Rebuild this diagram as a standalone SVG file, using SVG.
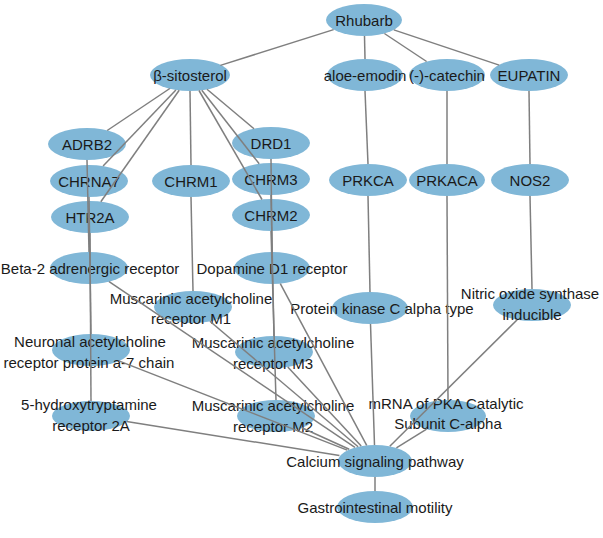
<svg xmlns="http://www.w3.org/2000/svg" width="603" height="538" viewBox="0 0 603 538">
<style>
.n ellipse{fill:#80b7d7;}
.n text{font-family:"Liberation Sans",Arial,sans-serif;font-size:15px;fill:#1a1a1a;text-anchor:middle;dominant-baseline:central;}
#edges line{stroke:#7f7f7f;stroke-width:1.5;}
</style>
<rect width="603" height="538" fill="#ffffff"/>
<g id="nodes">
<g id="rhubarb" class="n"><ellipse cx="364" cy="20" rx="38" ry="16"/><text x="364" y="20">Rhubarb</text></g>
<g id="sitosterol" class="n"><ellipse cx="190" cy="75" rx="40" ry="16"/><text x="190" y="75">β-sitosterol</text></g>
<g id="aloe" class="n"><ellipse cx="365" cy="75" rx="38" ry="16"/><text x="365" y="75">aloe-emodin</text></g>
<g id="catechin" class="n"><ellipse cx="447" cy="75" rx="38" ry="16"/><text x="447" y="75">(-)-catechin</text></g>
<g id="eupatin" class="n"><ellipse cx="529" cy="75" rx="39" ry="16"/><text x="529" y="75">EUPATIN</text></g>
<g id="adrb2" class="n"><ellipse cx="87" cy="144" rx="39" ry="16"/><text x="87" y="144">ADRB2</text></g>
<g id="drd1" class="n"><ellipse cx="271" cy="143" rx="39" ry="16"/><text x="271" y="143">DRD1</text></g>
<g id="chrna7" class="n"><ellipse cx="89" cy="181" rx="39" ry="16"/><text x="89" y="181">CHRNA7</text></g>
<g id="chrm1" class="n"><ellipse cx="191" cy="181" rx="39" ry="16"/><text x="191" y="181">CHRM1</text></g>
<g id="chrm3" class="n"><ellipse cx="271" cy="179" rx="39" ry="16"/><text x="271" y="179">CHRM3</text></g>
<g id="prkca" class="n"><ellipse cx="368" cy="180" rx="39" ry="16"/><text x="368" y="180">PRKCA</text></g>
<g id="prkaca" class="n"><ellipse cx="447" cy="180" rx="38" ry="16"/><text x="447" y="180">PRKACA</text></g>
<g id="nos2" class="n"><ellipse cx="530" cy="180" rx="39" ry="16"/><text x="530" y="180">NOS2</text></g>
<g id="htr2a" class="n"><ellipse cx="90" cy="217" rx="39" ry="16"/><text x="90" y="217">HTR2A</text></g>
<g id="chrm2" class="n"><ellipse cx="271" cy="215" rx="39" ry="16"/><text x="271" y="215">CHRM2</text></g>
<g id="beta2" class="n"><ellipse cx="89" cy="268" rx="39" ry="16"/><text x="90" y="268">Beta-2 adrenergic receptor</text></g>
<g id="dopamine" class="n"><ellipse cx="272" cy="268" rx="38" ry="16"/><text x="272" y="268">Dopamine D1 receptor</text></g>
<g id="m1" class="n"><ellipse cx="193" cy="307" rx="39" ry="16"/><text x="191" y="298">Muscarinic acetylcholine</text><text x="191" y="318">receptor M1</text></g>
<g id="pkc" class="n"><ellipse cx="370" cy="308" rx="38" ry="16"/><text x="382" y="308">Protein kinase C alpha type</text></g>
<g id="nosi" class="n"><ellipse cx="532" cy="305" rx="39" ry="16"/><text x="530" y="293">Nitric oxide synthase</text><text x="532" y="314">inducible</text></g>
<g id="neuronal" class="n"><ellipse cx="91" cy="350" rx="39" ry="16"/><text x="90" y="341">Neuronal acetylcholine</text><text x="89" y="362">receptor protein a-7 chain</text></g>
<g id="m3" class="n"><ellipse cx="274" cy="352" rx="39" ry="16"/><text x="273" y="342">Muscarinic acetylcholine</text><text x="273" y="363">receptor M3</text></g>
<g id="ht2a" class="n"><ellipse cx="91" cy="416" rx="39" ry="15"/><text x="89" y="404">5-hydroxytryptamine</text><text x="91" y="425">receptor 2A</text></g>
<g id="m2" class="n"><ellipse cx="276" cy="416" rx="39" ry="16"/><text x="273" y="405">Muscarinic acetylcholine</text><text x="273" y="426">receptor M2</text></g>
<g id="mrna" class="n"><ellipse cx="448" cy="416" rx="38" ry="16"/><text x="446" y="403">mRNA of PKA Catalytic</text><text x="448" y="423">Subunit C-alpha</text></g>
<g id="calcium" class="n"><ellipse cx="375" cy="461" rx="37" ry="16"/><text x="375" y="461">Calcium signaling pathway</text></g>
<g id="gi" class="n"><ellipse cx="375" cy="507" rx="38" ry="16"/><text x="375" y="507">Gastrointestinal motility</text></g>
</g>
<g id="edges">
<line x1="333.6" y1="29.6" x2="220.4" y2="65.4"/>
<line x1="364.5" y1="36" x2="365" y2="59"/>
<line x1="384.4" y1="33.5" x2="426.6" y2="61.5"/>
<line x1="393.8" y1="29.9" x2="499.2" y2="65.1"/>
<line x1="169.8" y1="88.5" x2="107.2" y2="130.5"/>
<line x1="175.9" y1="89.9" x2="103.1" y2="166.1"/>
<line x1="179.2" y1="90.3" x2="100.8" y2="201.7"/>
<line x1="190" y1="91" x2="191" y2="165"/>
<line x1="207" y1="89.3" x2="254" y2="128.7"/>
<line x1="201.8" y1="90.2" x2="259.2" y2="163.8"/>
<line x1="199" y1="90.5" x2="262" y2="199.5"/>
<line x1="365" y1="91" x2="368" y2="164"/>
<line x1="447" y1="91" x2="447" y2="164"/>
<line x1="529" y1="91" x2="530" y2="164"/>
<line x1="87" y1="160" x2="89" y2="252"/>
<line x1="89" y1="197" x2="91" y2="334"/>
<line x1="90" y1="233" x2="91" y2="401"/>
<line x1="191" y1="197" x2="193" y2="291"/>
<line x1="271" y1="159" x2="272" y2="252"/>
<line x1="271" y1="195" x2="274" y2="336"/>
<line x1="271" y1="231" x2="276" y2="400"/>
<line x1="368" y1="196" x2="370" y2="292"/>
<line x1="447" y1="196" x2="448" y2="400"/>
<line x1="530" y1="196" x2="532" y2="289"/>
<line x1="109.1" y1="281.6" x2="354.9" y2="447.4"/>
<line x1="280.3" y1="283.6" x2="366.7" y2="445.4"/>
<line x1="209.9" y1="321.3" x2="358.1" y2="446.7"/>
<line x1="118.8" y1="360.9" x2="347.2" y2="450.1"/>
<line x1="287.8" y1="366.9" x2="361.2" y2="446.1"/>
<line x1="126.6" y1="421.6" x2="339.4" y2="455.4"/>
<line x1="301.8" y1="427.7" x2="349.2" y2="449.3"/>
<line x1="370.5" y1="324" x2="374.5" y2="445"/>
<line x1="426.6" y1="429.2" x2="396.4" y2="447.8"/>
<line x1="517.2" y1="319.7" x2="389.8" y2="446.3"/>
<line x1="375" y1="477" x2="375" y2="491"/>
</g>
</svg>
